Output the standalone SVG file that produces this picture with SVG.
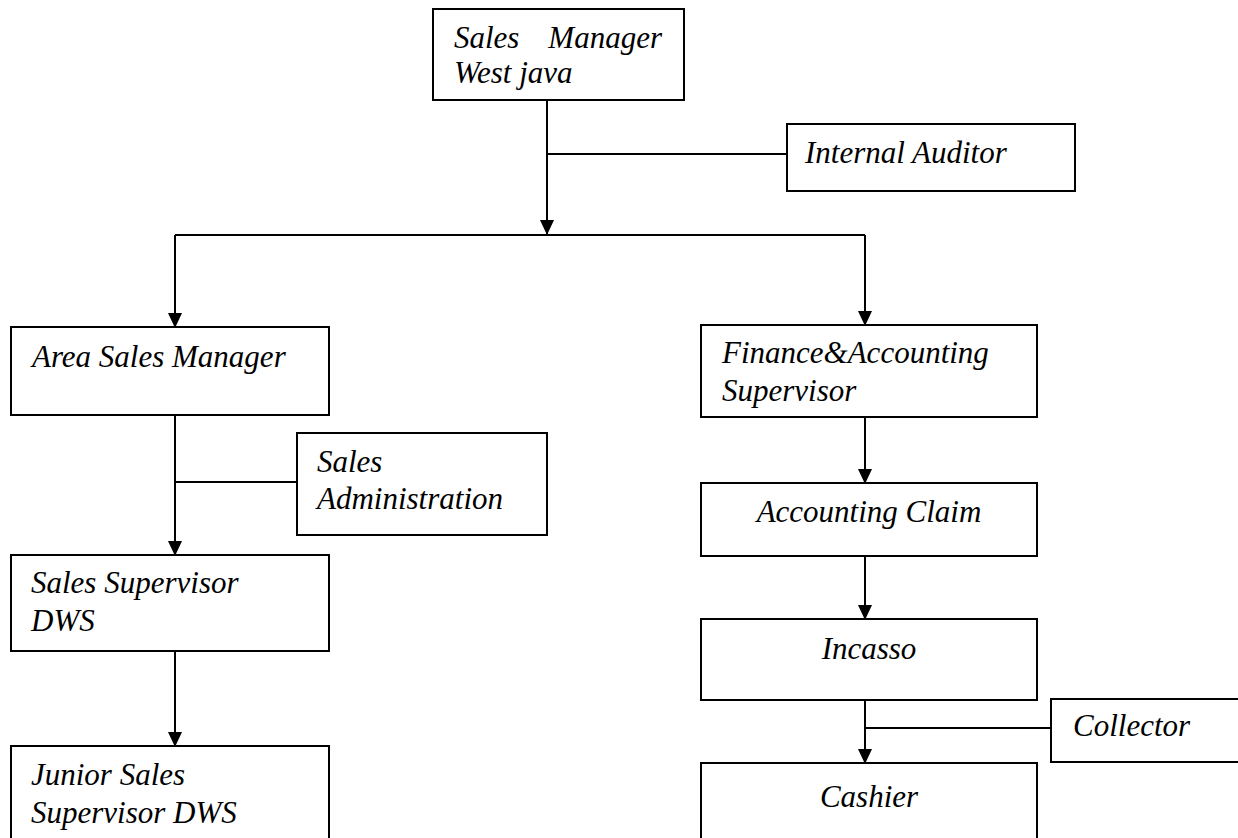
<svg xmlns="http://www.w3.org/2000/svg" width="1238" height="838" viewBox="0 0 1238 838">
<style>
.box{fill:#fff;stroke:#000;stroke-width:2}
.t{font-family:"Liberation Serif","Times New Roman",serif;font-style:italic;font-size:31px;fill:#000}
.c{text-anchor:middle}
.ln{fill:none;stroke:#000;stroke-width:2}
</style>
<defs>
<marker id="arr" viewBox="0 0 15 14" refX="14" refY="7" markerWidth="15" markerHeight="14" markerUnits="userSpaceOnUse" orient="auto">
<path d="M0,0 L15,7 L0,14 z" fill="#000"/>
</marker>
</defs>
<rect width="1238" height="838" fill="#fff"/>
<g id="connectors">
<path class="ln" d="M547,100 V234" marker-end="url(#arr)"/>
<path class="ln" d="M547,154 H787"/>
<path class="ln" d="M175,235 H865"/>
<path class="ln" d="M175,235 V327" marker-end="url(#arr)"/>
<path class="ln" d="M865,235 V325" marker-end="url(#arr)"/>
<path class="ln" d="M175,415 V555" marker-end="url(#arr)"/>
<path class="ln" d="M175,482 H297"/>
<path class="ln" d="M175,651 V746" marker-end="url(#arr)"/>
<path class="ln" d="M865,417 V483" marker-end="url(#arr)"/>
<path class="ln" d="M865,556 V619" marker-end="url(#arr)"/>
<path class="ln" d="M865,700 V763" marker-end="url(#arr)"/>
<path class="ln" d="M865,728 H1051"/>
</g>
<g id="sales-manager">
<rect class="box" x="433" y="9" width="251" height="91"/>
<text class="t" x="454" y="48">Sales</text>
<text class="t" x="662" y="48" text-anchor="end">Manager</text>
<text class="t" x="454" y="83">West java</text>
</g>
<g id="internal-auditor">
<rect class="box" x="787" y="124" width="288" height="67"/>
<text class="t" x="805" y="163">Internal Auditor</text>
</g>
<g id="area-sales-manager">
<rect class="box" x="11" y="327" width="318" height="88"/>
<text class="t" x="32" y="367">Area Sales Manager</text>
</g>
<g id="finance-accounting">
<rect class="box" x="701" y="325" width="336" height="92"/>
<text class="t" x="722" y="363">Finance&amp;Accounting</text>
<text class="t" x="722" y="401">Supervisor</text>
</g>
<g id="sales-administration">
<rect class="box" x="297" y="433" width="250" height="102"/>
<text class="t" x="317" y="472">Sales</text>
<text class="t" x="317" y="509">Administration</text>
</g>
<g id="sales-supervisor">
<rect class="box" x="11" y="555" width="318" height="96"/>
<text class="t" x="31" y="593">Sales Supervisor</text>
<text class="t" x="31" y="631">DWS</text>
</g>
<g id="junior-sales-supervisor">
<rect class="box" x="11" y="746" width="318" height="110"/>
<text class="t" x="31" y="785">Junior Sales</text>
<text class="t" x="31" y="823">Supervisor DWS</text>
</g>
<g id="accounting-claim">
<rect class="box" x="701" y="483" width="336" height="73"/>
<text class="t c" x="869" y="522">Accounting Claim</text>
</g>
<g id="incasso">
<rect class="box" x="701" y="619" width="336" height="81"/>
<text class="t c" x="869" y="659">Incasso</text>
</g>
<g id="collector">
<rect class="box" x="1051" y="699" width="200" height="63"/>
<text class="t" x="1073" y="736">Collector</text>
</g>
<g id="cashier">
<rect class="box" x="701" y="763" width="336" height="100"/>
<text class="t c" x="869" y="807">Cashier</text>
</g>
</svg>
